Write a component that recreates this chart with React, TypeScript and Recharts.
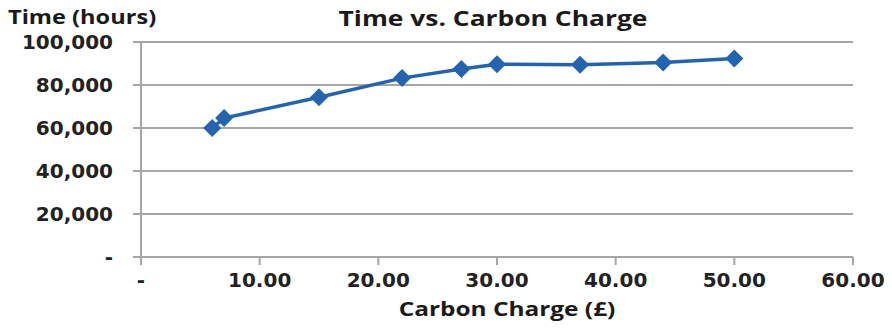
import { LineChart, Line, XAxis, YAxis, CartesianGrid } from "recharts";

const charge = [6, 7, 15, 22, 27, 30, 37, 44, 50];
const hours = [60000, 64600, 74300, 83200, 87400, 89700, 89400, 90500, 92300];
const xTicks = [0, 10, 20, 30, 40, 50, 60];
const yTicks = [0, 20000, 40000, 60000, 80000, 100000];

const data = charge.map((c, i) => ({ charge: c, hours: hours[i] }));

const BLUE = "#2463ad";
const GRID = "#a6a6a6";
const TICK_FONT = { fontFamily: "DejaVu Sans", fontWeight: 700, fontSize: 20, fill: "#222" };
const LABEL = { fontFamily: "Open Sans", fontWeight: 700, color: "#1a1a1a", whiteSpace: "nowrap" as const };

const Diamond = (props: any) => {
  const { cx, cy } = props;
  if (cx == null || cy == null) return null;
  const r = 9;
  return <path d={`M${cx},${cy - r}L${cx + r},${cy}L${cx},${cy + r}L${cx - r},${cy}Z`} fill={BLUE} />;
};

const fmtY = (v: number) => (v === 0 ? "-" : v.toLocaleString("en-US"));
const fmtX = (v: number) => (v === 0 ? "-" : v.toFixed(2));

export default function App() {
  return (
    <div style={{ position: "absolute", left: 0, top: 0, width: 892, height: 328, background: "#fff" }}>
      <div style={{ ...LABEL, position: "absolute", left: 493, top: 2, fontSize: 22, transform: "translateX(-50%) scaleX(1.2)" }}>
        Time vs. Carbon Charge
      </div>
      <div style={{ ...LABEL, position: "absolute", left: 8, top: 3, fontSize: 20, transform: "scaleX(1.18)", transformOrigin: "left" }}>
        Time (hours)
      </div>
      <div style={{ ...LABEL, position: "absolute", left: 507, top: 295, fontSize: 20, transform: "translateX(-50%) scaleX(1.22)" }}>
        Carbon Charge (£)
      </div>
      <LineChart width={892} height={328} data={data} margin={{ top: 42, right: 39, bottom: 0, left: 10 }}>
        <CartesianGrid vertical={false} stroke={GRID} strokeWidth={2} />
        <XAxis
          type="number"
          dataKey="charge"
          domain={[0, 60]}
          ticks={xTicks}
          tickFormatter={fmtX}
          height={71}
          tickSize={8}
          tickMargin={8}
          tick={TICK_FONT}
          stroke={GRID}
          strokeWidth={2}
          tickLine={{ stroke: GRID, strokeWidth: 2 }}
        />
        <YAxis
          type="number"
          domain={[0, 100000]}
          ticks={yTicks}
          tickFormatter={fmtY}
          width={131}
          tickSize={8}
          tickMargin={20}
          tick={TICK_FONT}
          stroke={GRID}
          strokeWidth={2}
          tickLine={{ stroke: GRID, strokeWidth: 2 }}
        />
        <Line
          type="linear"
          dataKey="hours"
          stroke={BLUE}
          strokeWidth={3.5}
          dot={<Diamond />}
          activeDot={false}
          isAnimationActive={false}
        />
      </LineChart>
    </div>
  );
}
